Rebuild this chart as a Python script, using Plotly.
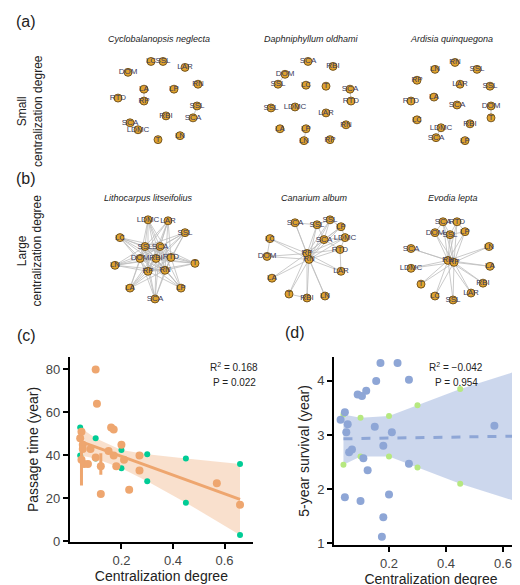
import plotly.graph_objects as go

# ---- network panels (positions in page pixels, y downward) ----
net_titles = ["Cyclobalanopsis neglecta", "Daphniphyllum oldhami", "Ardisia quinquegona",
              "Lithocarpus litseifolius", "Canarium album", "Evodia lepta"]
title_x = [151, 303, 443, 140, 306, 445]
title_y = [31, 31, 31, 192, 192, 192]

net1_lab = ["LC", "SSL", "LAR", "DOM", "LA", "LP", "RN", "RTD", "RP", "SSL", "SCA", "RBI", "SCA", "LDMC", "T", "LN"]
net1_x = [143, 155, 177, 120, 136, 166, 190, 110, 136, 189, 185, 158, 122, 130, 150, 172]
net1_y = [54, 54, 60, 65, 82, 82, 77, 91, 94, 99, 111, 109, 116, 123, 133, 129]
net1_edges = [(4, 8), (9, 10), (12, 13)]

net2_lab = ["SCA", "RBI", "DOM", "SSL", "LC", "T", "SCA", "RTD", "SSL", "LDMC", "LAR", "RN", "LA", "LP", "LN", "RP"]
net2_x = [300, 325, 277, 270, 298, 318, 342, 343, 263, 287, 318, 338, 272, 298, 296, 322]
net2_y = [54, 59, 67, 77, 78, 79, 82, 94, 101, 100, 106, 118, 122, 122, 134, 133]
net2_edges = [(2, 3), (13, 14), (6, 7)]

net3_lab = ["RN", "LN", "SSL", "RP", "LAR", "SSL", "LA", "RTD", "SCA", "DOM", "T", "LC", "LDMC", "RBI", "SCA", "LP"]
net3_x = [447, 427, 469, 409, 452, 482, 426, 403, 449, 483, 483, 409, 433, 462, 428, 457]
net3_y = [55, 62, 62, 73, 77, 79, 90, 94, 98, 99, 111, 113, 121, 117, 131, 134]
net3_edges = [(9, 10), (12, 14)]

net4_lab = ["LDMC", "LAR", "SSL", "LC", "SSL", "SCA", "DOM", "RBI", "RTD", "T", "LN", "RP", "RN", "LA", "LP", "SCA"]
net4_x = [140, 160, 177, 112, 137, 152, 132, 148, 163, 187, 107, 140, 157, 122, 173, 147]
net4_y = [214, 215, 227, 232, 241, 241, 253, 253, 252, 258, 260, 266, 265, 283, 283, 294]
net4_hubs = [4, 5, 6, 7, 8, 11, 12]

net5_lab = ["SCA", "SSL", "SSL", "LP", "LC", "SCA", "LDMC", "RTD", "DOM", "RP", "RN", "LAR", "LA", "T", "RBI", "LN"]
net5_x = [287, 309, 322, 333, 262, 316, 337, 332, 259, 299, 301, 333, 264, 281, 299, 317]
net5_y = [217, 219, 214, 221, 233, 234, 232, 244, 251, 248, 254, 266, 273, 289, 293, 291]
net5_hubs = [9, 10]
net5_extra = [(4, 8), (0, 1), (1, 2), (2, 3), (1, 5), (2, 5), (3, 5), (5, 6), (5, 7), (6, 7), (3, 6), (7, 11), (13, 14)]

net6_lab = ["SCA", "RTD", "DOM", "SSL", "LP", "LN", "SCA", "RN", "RP", "LDMC", "LA", "RBI", "T", "LAR", "LC", "SSL"]
net6_x = [435, 449, 427, 442, 457, 481, 403, 440, 446, 403, 482, 475, 413, 463, 427, 445]
net6_y = [216, 216, 227, 229, 226, 241, 243, 255, 257, 263, 261, 278, 279, 288, 291, 295]
net6_hubs = [7, 8]
net6_extra = [(0, 1), (0, 2), (1, 4), (2, 3), (3, 4), (0, 3), (1, 3)]

# ---- panel (c) ----
c_x = [0.04, 0.045, 0.05, 0.045, 0.05, 0.055, 0.07, 0.08, 0.10, 0.105, 0.10, 0.12, 0.12,
       0.15, 0.16, 0.17, 0.17, 0.18, 0.20, 0.21, 0.23, 0.27, 0.27, 0.57, 0.66]
c_y = [48, 51, 45, 38, 43, 36, 36, 43, 80, 64, 39, 35, 22, 42, 53, 52, 40, 35, 45, 38, 24, 40, 33, 27, 17]
c_err_x = [0.045, 0.12]
c_err_lo = [26, 31]
c_err_hi = [51, 41]
c_fit_x = [0.04, 0.66]
c_fit_y = [46.5, 19.5]
c_band_x = [0.04, 0.1, 0.2, 0.3, 0.45, 0.66]
c_band_lo = [40, 38.5, 34, 28, 18, 3]
c_band_hi = [53, 48, 42.5, 40.5, 38.5, 36]

# ---- panel (d) ----
d_x = [0.03, 0.045, 0.05, 0.055, 0.06, 0.07, 0.045, 0.09, 0.10, 0.105, 0.11, 0.12, 0.125,
       0.15, 0.155, 0.17, 0.23, 0.175, 0.18, 0.18, 0.20, 0.21, 0.27, 0.27, 0.57, 0.66]
d_y = [3.28, 3.42, 3.05, 3.2, 2.68, 2.73, 1.85, 3.75, 1.78, 3.72, 2.57, 3.82, 2.35,
       3.15, 4.0, 4.33, 4.33, 1.12, 1.48, 2.8, 1.9, 3.05, 4.02, 2.47, 3.17, 2.65]
d_fit_x = [0.04, 0.67]
d_fit_y = [2.93, 2.98]
d_band_x = [0.04, 0.1, 0.2, 0.3, 0.45, 0.66]
d_band_lo = [2.45, 2.6, 2.6, 2.4, 2.1, 1.75]
d_band_hi = [3.38, 3.32, 3.35, 3.55, 3.85, 4.2]

ORANGE = "#eea66f"
BLUE = "#8ea6d6"
NODE = "#e0a32e"

fig = go.Figure()

def add_net(lab, xs, ys, edges):
    ex, ey = [], []
    for a, b in edges:
        ex += [xs[a], xs[b], None]
        ey += [ys[a], ys[b], None]
    fig.add_trace(go.Scatter(x=ex, y=ey, mode="lines", line=dict(color="#bdbdbd", width=0.8),
                             xaxis="x3", yaxis="y3", hoverinfo="skip", showlegend=False))
    fig.add_trace(go.Scatter(x=xs, y=ys, mode="markers+text", text=lab, textposition="middle center",
                             marker=dict(size=8, color=NODE, line=dict(color="#5a3d10", width=0.8)),
                             textfont=dict(size=8, color="#3a3a5a", family="Liberation Sans"),
                             xaxis="x3", yaxis="y3", showlegend=False))

def hub_edges(n, hubs, extra=()):
    e = set()
    for h in hubs:
        for j in range(n):
            if j != h:
                e.add(tuple(sorted((h, j))))
    return list(e) + list(extra)

add_net(net1_lab, net1_x, net1_y, net1_edges)
add_net(net2_lab, net2_x, net2_y, net2_edges)
add_net(net3_lab, net3_x, net3_y, net3_edges)
add_net(net4_lab, net4_x, net4_y, hub_edges(16, net4_hubs))
add_net(net5_lab, net5_x, net5_y, hub_edges(16, net5_hubs, net5_extra))
add_net(net6_lab, net6_x, net6_y, hub_edges(16, net6_hubs, net6_extra))

# panel c
fig.add_trace(go.Scatter(x=c_band_x + c_band_x[::-1], y=c_band_hi + c_band_lo[::-1], fill="toself",
                         fillcolor="rgba(238,166,111,0.35)", line=dict(width=0), showlegend=False,
                         xaxis="x", yaxis="y", hoverinfo="skip"))
fig.add_trace(go.Scatter(x=c_fit_x, y=c_fit_y, mode="lines", line=dict(color=ORANGE, width=3),
                         xaxis="x", yaxis="y", showlegend=False))
for ex, lo, hi in zip(c_err_x, c_err_lo, c_err_hi):
    fig.add_trace(go.Scatter(x=[ex, ex], y=[lo, hi], mode="lines", line=dict(color=ORANGE, width=3),
                             xaxis="x", yaxis="y", showlegend=False))
fig.add_trace(go.Scatter(x=c_x, y=c_y, mode="markers", marker=dict(size=8, color=ORANGE),
                         xaxis="x", yaxis="y", showlegend=False))

# panel d
fig.add_trace(go.Scatter(x=d_band_x + d_band_x[::-1], y=d_band_hi + d_band_lo[::-1], fill="toself",
                         fillcolor="rgba(142,166,214,0.45)", line=dict(width=0), showlegend=False,
                         xaxis="x2", yaxis="y2", hoverinfo="skip"))
fig.add_trace(go.Scatter(x=d_fit_x, y=d_fit_y, mode="lines", line=dict(color=BLUE, width=3, dash="dash"),
                         xaxis="x2", yaxis="y2", showlegend=False))
fig.add_trace(go.Scatter(x=d_x, y=d_y, mode="markers", marker=dict(size=8, color=BLUE),
                         xaxis="x2", yaxis="y2", showlegend=False))

ax = dict(showgrid=False, zeroline=False, showline=True, linecolor="black", linewidth=2,
          ticks="outside", tickwidth=2, ticklen=5, tickcolor="black",
          tickfont=dict(size=13, color="#444"), title_font=dict(size=14, color="#222"))

fig.update_layout(
    width=520, height=585, margin=dict(l=0, r=0, t=0, b=0),
    paper_bgcolor="white", plot_bgcolor="rgba(0,0,0,0)",
    font=dict(family="Liberation Sans", color="#222"),
    xaxis=dict(ax, domain=[0.119, 0.471], range=[0, 0.71], tickvals=[0.2, 0.4, 0.6],
               title=dict(text="Centralization degree", standoff=4), anchor="y"),
    yaxis=dict(ax, domain=[0.077, 0.398], range=[-0.5, 86], tickvals=[0, 20, 40, 60, 80],
               title=dict(text="Passage time (year)", standoff=4), anchor="x"),
    xaxis2=dict(ax, domain=[0.627, 1.0], range=[0.007, 0.688], tickvals=[0.2, 0.4, 0.6],
                title=dict(text="Centralization degree", standoff=4), anchor="y2"),
    yaxis2=dict(ax, domain=[0.072, 0.398], range=[0.96, 4.45], tickvals=[1, 2, 3, 4],
                title=dict(text="5-year survival (year)", standoff=4), anchor="x2"),
    xaxis3=dict(domain=[0, 1], range=[0, 520], visible=False, anchor="y3"),
    yaxis3=dict(domain=[0, 1], range=[585, 0], visible=False, anchor="x3"),
)

ann = []
for t, x, y in zip(net_titles, title_x, title_y):
    ann.append(dict(text="<i>" + t + "</i>", x=x, y=y, xref="x3", yref="y3", showarrow=False,
                    font=dict(size=9, color="#222")))
for t, x, y in [("(a)", 18, 14), ("(b)", 18, 172), ("(c)", 18, 331), ("(d)", 287, 328)]:
    ann.append(dict(text=t, x=x, y=y, xref="x3", yref="y3", showarrow=False, font=dict(size=16)))
ann.append(dict(text="Small<br>centralization degree", x=22, y=104, xref="x3", yref="y3",
                showarrow=False, textangle=-90, font=dict(size=12)))
ann.append(dict(text="Large<br>centralization degree", x=22, y=245, xref="x3", yref="y3",
                showarrow=False, textangle=-90, font=dict(size=12)))
for t, x, y in [("R<sup>2</sup> = 0.168", 226, 363), ("P = 0.022", 226, 378),
                ("R<sup>2</sup> = \u22120.042", 448, 363), ("P = 0.954", 448, 378)]:
    ann.append(dict(text=t, x=x, y=y, xref="x3", yref="y3", showarrow=False, font=dict(size=10)))
fig.update_layout(annotations=ann)

fig.write_html("out.html")
